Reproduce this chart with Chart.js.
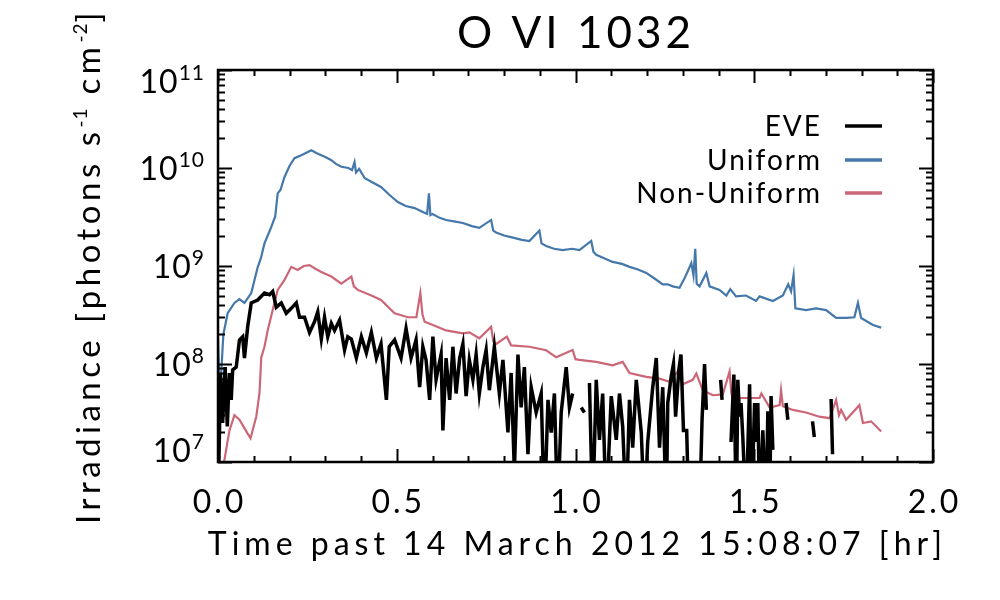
<!DOCTYPE html>
<html>
<head>
<meta charset="utf-8">
<title>O VI 1032</title>
<script src="https://cdn.jsdelivr.net/npm/chart.js@4.4.1/dist/chart.umd.min.js"></script>
<style>
  html, body { margin: 0; padding: 0; background: #ffffff; }
  canvas { display: block; }
</style>
</head>
<body>
<canvas id="chart" width="1000" height="600"></canvas>
<script>
// --- chart text ---
const titleText = 'O VI 1032';
const xTitle = 'Time past 14 March 2012 15:08:07 [hr]';
const yTitleParts = [['Irradiance [photons s', false], ['-1', true], [' cm', false], ['-2', true], [']', false]];

// --- axis ticks ---
const xTickValues = [0.0, 0.5, 1.0, 1.5, 2.0];
const xTickLabels = ['0.0', '0.5', '1.0', '1.5', '2.0'];
const yTickValues = [1e7, 1e8, 1e9, 1e10, 1e11];
const yTickExponents = ['7', '8', '9', '10', '11'];

// --- series: time [hr] and irradiance [photons s-1 cm-2] (null = no data) ---
const eveTime = [0.000, 0.007, 0.013, 0.020, 0.026, 0.032, 0.037, 0.041, 0.051, 0.060,
  0.069, 0.074, 0.083, 0.093, 0.111, 0.130, 0.144, 0.153, 0.163, 0.177,
  0.191, 0.205, 0.219, 0.228, 0.242, 0.256, 0.270, 0.279, 0.289, 0.298,
  0.307, 0.317, 0.326, 0.340, 0.354, 0.363, 0.373, 0.387, 0.401, 0.415,
  0.429, 0.443, 0.456, 0.471, 0.479, 0.494, 0.512, 0.526, 0.540, 0.554,
  0.564, 0.573, 0.582, 0.592, 0.601, 0.610, 0.624, 0.629, 0.638, 0.648,
  0.657, 0.666, 0.676, 0.685, 0.694, 0.703, 0.713, 0.722, 0.731, 0.741,
  0.750, 0.759, 0.773, 0.787, 0.797, 0.811, 0.820, 0.829, 0.839, 0.848,
  0.857, 0.867, 0.876, 0.890, 0.904, 0.913, 0.923, 0.932, 0.941, 0.950,
  0.960, 0.974, 0.983, 0.992, 0.997, 1.016, 1.025, 1.030, 1.039, 1.048,
  1.058, 1.067, 1.076, 1.086, 1.100, 1.114, 1.123, 1.132, 1.142, 1.151,
  1.160, 1.170, 1.184, 1.193, 1.202, 1.216, 1.226, 1.235, 1.244, 1.254,
  1.258, 1.268, 1.274, 1.280, 1.289, 1.295, 1.302, 1.311, 1.317, 1.325,
  1.347, 1.354, 1.361, 1.366, 1.370, 1.406, 1.410, 1.415, 1.435, 1.443,
  1.450, 1.454, 1.459, 1.463, 1.468, 1.477, 1.487, 1.492, 1.501, 1.505,
  1.510, 1.515, 1.524, 1.533, 1.538, 1.543, 1.547, 1.552, 1.560, 1.589,
  1.594, 1.600, 1.663, 1.668, 1.675, 1.715, 1.719];
const eveFlux = [3e6, 8.1e7, 2.5e7, 9.3e7, 2.3e7, 8.1e7, 4.3e7, 8.7e7, 9.3e7, 1.76e8,
  1.9e8, 1.15e8, 2.4e8, 4.2e8, 4.5e8, 5.3e8, 5.1e8, 5.5e8, 3.8e8, 4.2e8,
  3.3e8, 3.7e8, 4.2e8, 3.0e8, 3.0e8, 2.1e8, 2.7e8, 3.4e8, 1.8e8, 3.0e8,
  1.9e8, 2.6e8, 2.2e8, 2.8e8, 1.39e8, 1.9e8, 1.8e8, 1.15e8, 1.9e8, 1.3e8,
  2.1e8, 1.15e8, 1.6e8, 4.3e7, 1.5e8, 1.76e8, 1.15e8, 2.3e8, 1.15e8, 1.76e8,
  5.8e7, 1.5e8, 1.1e8, 4.3e7, 1.9e8, 6.9e7, 1.25e8, 2.1e7, 1.15e8, 4.3e7,
  1.5e8, 5.0e7, 1.15e8, 1.6e8, 4.7e7, 1.1e8, 6.9e7, 1.25e8, 5.0e7, 9.3e7,
  1.39e8, 5.4e7, 1.5e8, 5.0e7, 1.1e8, 2.0e7, 8.1e7, 8e6, 1.25e8, 3.6e7,
  9.3e7, 1.2e7, 5.8e7, 3.2e7, 5.0e7, 3e6, 4.3e7, 2.0e7, 5.0e7, 3e6,
  3.2e7, 9.3e7, 3.6e7, 5.0e7, null, 3.6e7, 3.2e7, null, 6.4e7, 3e6,
  6.9e7, 1.68e7, 5.0e7, 3e6, 4.7e7, 1.68e7, 5.0e7, 2.3e7, 3e6, 4.3e7,
  1.4e7, 6.9e7, 2.0e7, 3e6, 1.6e7, 5.8e7, 1.15e8, 1.4e7, 5.8e7, 3e6,
  4.0e7, 7.6e7, 1.0e8, 2.9e7, 8.7e7, 1.25e8, 2.1e7, 2.1e7, 3e6, null,
  3e6, 2.7e7, 1.0e8, 3.4e7, null, 6.9e7, 4.3e7, null, 1.6e7, 7.8e7,
  3e6, 6.9e7, 2.9e7, 4.0e7, 1.8e7, 3e6, 6.2e7, 3e6, 4.0e7, 1.6e7,
  4.0e7, 3e6, 2.1e7, 3e6, 3.3e7, 3e6, 4.7e7, 1.33e7, null, 4.0e7,
  2.7e7, null, 2.6e7, 1.8e7, null, 4.4e7, 1.2e7];

const uniTime = [0.000, 0.004, 0.009, 0.015, 0.027, 0.046, 0.060, 0.074, 0.093, 0.111,
  0.120, 0.130, 0.149, 0.160, 0.167, 0.175, 0.186, 0.200, 0.214, 0.233,
  0.250, 0.261, 0.275, 0.289, 0.303, 0.317, 0.330, 0.345, 0.365, 0.375,
  0.382, 0.386, 0.395, 0.410, 0.430, 0.456, 0.480, 0.503, 0.525, 0.550,
  0.570, 0.585, 0.590, 0.594, 0.600, 0.620, 0.638, 0.660, 0.685, 0.710,
  0.731, 0.764, 0.770, 0.778, 0.800, 0.825, 0.850, 0.871, 0.899, 0.905,
  0.918, 0.940, 0.964, 0.990, 1.011, 1.044, 1.050, 1.058, 1.080, 1.104,
  1.130, 1.151, 1.175, 1.198, 1.220, 1.244, 1.258, 1.272, 1.291, 1.305,
  1.315, 1.324, 1.330, 1.335, 1.339, 1.347, 1.366, 1.375, 1.403, 1.422,
  1.433, 1.449, 1.477, 1.505, 1.515, 1.552, 1.580, 1.595, 1.603, 1.610,
  1.615, 1.645, 1.673, 1.701, 1.729, 1.757, 1.780, 1.790, 1.799, 1.832,
  1.855];
const uniFlux = [1.8e8, 6.0e7, 8.1e7, 2.0e8, 3.3e8, 4.2e8, 4.6e8, 4.2e8, 5.3e8, 9.7e8,
  1.2e9, 1.7e9, 2.5e9, 3.2e9, 5.5e9, 6.0e9, 8.1e9, 1.05e10, 1.26e10, 1.35e10,
  1.45e10, 1.52e10, 1.42e10, 1.35e10, 1.28e10, 1.2e10, 1.1e10, 1.03e10, 1.0e10, 9.5e9,
  1.15e10, 9.0e9, 9.8e9, 7.9e9, 7.2e9, 6.4e9, 5.3e9, 4.5e9, 4.1e9, 3.9e9,
  3.6e9, 3.4e9, 5.5e9, 3.3e9, 3.4e9, 3.1e9, 2.95e9, 2.85e9, 2.75e9, 2.55e9,
  2.45e9, 2.95e9, 2.3e9, 2.2e9, 2.05e9, 1.95e9, 1.85e9, 1.8e9, 2.3e9, 1.7e9,
  1.6e9, 1.5e9, 1.45e9, 1.5e9, 1.45e9, 1.8e9, 1.4e9, 1.3e9, 1.2e9, 1.1e9,
  1.05e9, 9.8e8, 9.2e8, 8.5e8, 7.5e8, 6.5e8, 6.5e8, 6.2e8, 6.0e8, 7.5e8,
  9.0e8, 1.07e9, 8.0e8, 1.5e9, 6.6e8, 6.2e8, 8.5e8, 6.2e8, 5.7e8, 5.0e8,
  5.8e8, 4.9e8, 5.0e8, 4.4e8, 4.9e8, 4.4e8, 5.0e8, 6.5e8, 5.5e8, 8.1e8,
  3.7e8, 3.55e8, 3.7e8, 3.55e8, 2.95e8, 2.95e8, 3.0e8, 4.2e8, 2.95e8, 2.5e8,
  2.35e8];

const nonTime = [0.005, 0.018, 0.032, 0.046, 0.060, 0.083, 0.091, 0.107, 0.116, 0.121,
  0.130, 0.139, 0.153, 0.167, 0.186, 0.205, 0.223, 0.240, 0.256, 0.270,
  0.289, 0.317, 0.345, 0.373, 0.380, 0.391, 0.429, 0.456, 0.494, 0.531,
  0.555, 0.566, 0.572, 0.578, 0.601, 0.638, 0.685, 0.703, 0.731, 0.764,
  0.770, 0.778, 0.808, 0.820, 0.871, 0.918, 0.946, 0.992, 1.000, 1.011,
  1.058, 1.104, 1.132, 1.151, 1.198, 1.235, 1.263, 1.286, 1.300, 1.328,
  1.338, 1.356, 1.384, 1.412, 1.431, 1.436, 1.440, 1.477, 1.515, 1.520,
  1.543, 1.571, 1.575, 1.580, 1.608, 1.645, 1.682, 1.711, 1.729, 1.737,
  1.743, 1.757, 1.794, 1.804, 1.827, 1.855];
const nonFlux = [5e6, 1.05e7, 2.1e7, 3.0e7, 2.7e7, 1.95e7, 1.75e7, 2.9e7, 5.0e7, 1.17e8,
  1.5e8, 2.2e8, 3.55e8, 5.7e8, 7.2e8, 9.8e8, 9.1e8, 1.0e9, 1.02e9, 9.5e8,
  8.7e8, 7.8e8, 6.6e8, 7.8e8, 6.2e8, 5.7e8, 5.0e8, 4.5e8, 3.3e8, 3.0e8,
  3.0e8, 5.3e8, 3.2e8, 2.7e8, 2.5e8, 2.2e8, 2.05e8, 2.1e8, 1.83e8, 2.4e8,
  1.7e8, 1.6e8, 1.9e8, 1.55e8, 1.5e8, 1.38e8, 1.17e8, 1.39e8, 1.12e8, 1.1e8,
  1.05e8, 9.7e7, 1.05e8, 8.1e7, 7.4e7, 7.1e7, 6.6e7, 8.4e7, 6.2e7, 6.9e7,
  8.0e7, 5.4e7, 4.8e7, 4.9e7, 8.4e7, 5.0e7, 4.5e7, 4.5e7, 4.5e7, 5.0e7,
  3.6e7, 3.8e7, 5.4e7, 3.7e7, 3.4e7, 3.2e7, 2.9e7, 2.8e7, 4.3e7, 3.0e7,
  3.4e7, 2.7e7, 3.8e7, 2.5e7, 2.6e7, 2.05e7];

const FONT = 'Lato, "DejaVu Sans", sans-serif';

function toPoints(times, values) {
    return times.map((t, i) => ({ x: t, y: values[i] }));
}

// IDL-style frame: inward ticks on all four sides, superscript labels, legend
const idlFrame = {
    id: 'idlFrame',
    afterDatasetsDraw(chart) {
        const ctx = chart.ctx;
        const area = chart.chartArea;
        const xs = chart.scales.x;
        const ys = chart.scales.y;
        ctx.save();
        ctx.strokeStyle = '#000';
        ctx.fillStyle = '#000';

        // frame
        ctx.lineWidth = 2.5;
        ctx.strokeRect(area.left, area.top, area.right - area.left, area.bottom - area.top);

        // y ticks (log): majors at decades, minors 2..9
        ctx.lineWidth = 2;
        ctx.beginPath();
        for (let d = 7; d <= 11; d++) {
            for (let m = 1; m <= 9; m++) {
                const v = m * Math.pow(10, d);
                if (v > 1e11) break;
                const py = Math.round(ys.getPixelForValue(v)) + 0.5;
                const len = m === 1 ? 14 : 7;
                ctx.moveTo(area.left, py); ctx.lineTo(area.left + len, py);
                ctx.moveTo(area.right, py); ctx.lineTo(area.right - len, py);
            }
        }
        // x ticks: majors every 0.5, minors every 0.1
        for (let i = 0; i <= 20; i++) {
            const px = Math.round(xs.getPixelForValue(i / 10)) + 0.5;
            const len = i % 5 === 0 ? 13 : 6;
            ctx.moveTo(px, area.bottom); ctx.lineTo(px, area.bottom - len);
            ctx.moveTo(px, area.top); ctx.lineTo(px, area.top + len);
        }
        ctx.stroke();

        // y tick labels 10^n
        yTickValues.forEach((v, i) => {
            const ty = ys.getPixelForValue(v);
            const cy = Math.min(Math.max(ty, area.top + 11), area.bottom - 12);
            ctx.font = '21px ' + FONT;
            ctx.letterSpacing = '1px';
            const ew = ctx.measureText(yTickExponents[i]).width;
            const ex = 205 - ew;
            ctx.textAlign = 'left';
            ctx.textBaseline = 'alphabetic';
            ctx.fillText(yTickExponents[i], ex, cy - 1);
            ctx.font = '32px ' + FONT;
            ctx.letterSpacing = '1px';
            ctx.textAlign = 'right';
            ctx.fillText('10', ex, cy + 12);
        });

        // x tick labels
        ctx.font = '32px ' + FONT;
        ctx.letterSpacing = '3px';
        ctx.textAlign = 'center';
        ctx.textBaseline = 'alphabetic';
        xTickValues.forEach((v, i) => {
            ctx.fillText(xTickLabels[i], xs.getPixelForValue(v) + 1.5, 513);
        });

        // x title
        ctx.letterSpacing = '5px';
        ctx.fillText(xTitle, (area.left + area.right) / 2 + 2, 555);

        // title
        ctx.font = '44px ' + FONT;
        ctx.letterSpacing = '4px';
        ctx.fillText(titleText, 576, 48);

        // y title (rotated, with superscripts)
        ctx.save();
        ctx.translate(100, 266);
        ctx.rotate(-Math.PI / 2);
        ctx.textAlign = 'left';
        const parts = yTitleParts.map(([txt, sup]) => {
            ctx.font = (sup ? '19px ' : '33px ') + FONT;
            ctx.letterSpacing = sup ? '1px' : '4.5px';
            return { txt, sup, w: ctx.measureText(txt).width };
        });
        const total = parts.reduce((s, p) => s + p.w, 0);
        let cx = -total / 2;
        parts.forEach(p => {
            ctx.font = (p.sup ? '19px ' : '33px ') + FONT;
            ctx.letterSpacing = p.sup ? '1px' : '4.5px';
            ctx.fillText(p.txt, cx, p.sup ? -13 : 0);
            cx += p.w;
        });
        ctx.restore();

        // legend (labels right-aligned, sample line to the right)
        ctx.font = '28px ' + FONT;
        ctx.letterSpacing = '2px';
        ctx.textAlign = 'right';
        ctx.textBaseline = 'middle';
        const legendY = [126, 160, 193];
        chart.data.datasets.forEach((ds, i) => {
            ctx.fillStyle = '#000';
            ctx.fillText(ds.label, 822, legendY[i] + 1);
            ctx.strokeStyle = ds.borderColor;
            ctx.lineWidth = 3.5;
            ctx.beginPath();
            ctx.moveTo(845, legendY[i]);
            ctx.lineTo(882, legendY[i]);
            ctx.stroke();
        });
        ctx.restore();
    }
};

new Chart(document.getElementById('chart'), {
    type: 'line',
    data: {
        datasets: [
            {
                label: 'EVE',
                data: toPoints(eveTime, eveFlux),
                borderColor: '#000000',
                borderWidth: 3.5,
                order: 0,
            },
            {
                label: 'Uniform',
                data: toPoints(uniTime, uniFlux),
                borderColor: '#4477AA',
                borderWidth: 2.2,
                order: 2,
            },
            {
                label: 'Non-Uniform',
                data: toPoints(nonTime, nonFlux),
                borderColor: '#CC6677',
                borderWidth: 2.2,
                order: 1,
            }
        ]
    },
    options: {
        responsive: false,
        animation: false,
        devicePixelRatio: 1,
        spanGaps: false,
        layout: { padding: { left: 218, right: 67, top: 70, bottom: 138 } },
        elements: {
            point: { radius: 0 },
            line: { tension: 0, borderJoinStyle: 'miter', fill: false }
        },
        scales: {
            x: { type: 'linear', min: 0, max: 2, display: false },
            y: { type: 'logarithmic', min: 1e7, max: 1e11, display: false }
        },
        plugins: {
            legend: { display: false },
            title: { display: false },
            tooltip: { enabled: false }
        }
    },
    plugins: [idlFrame]
});
</script>
</body>
</html>
